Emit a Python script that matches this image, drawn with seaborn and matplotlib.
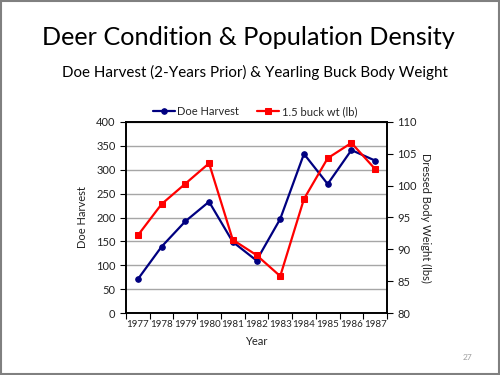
import matplotlib
matplotlib.use("Agg")
import matplotlib.pyplot as plt
import seaborn as sns
import pandas as pd
from matplotlib.patches import Rectangle
from matplotlib.ticker import FixedLocator, NullFormatter

# Datos
years = [1977, 1978, 1979, 1980, 1981, 1982, 1983, 1984, 1985, 1986, 1987]
doe_harvest = [71, 139, 192, 233, 149, 110, 197, 333, 270, 341, 319]
buck_wt = [92.2, 97.1, 100.3, 103.5, 91.5, 89.1, 85.8, 97.9, 104.3, 106.7, 102.6]

df = pd.DataFrame({"Year": years, "Doe": doe_harvest, "Buck": buck_wt})

sns.set_theme(style="white")
plt.rcParams['font.family'] = ['Lato', 'DejaVu Sans']

fig = plt.figure(figsize=(5, 3.75), dpi=100)
ax = fig.add_axes([0.252, 0.165, 0.522, 0.51])
ax2 = ax.twinx()

navy = "#000080"
red = "#FF0000"

sns.lineplot(data=df, x="Year", y="Doe", ax=ax, color=navy, marker="o",
             markersize=5, markeredgecolor=navy, linewidth=1.6, label="Doe Harvest",
             legend=False)
sns.lineplot(data=df, x="Year", y="Buck", ax=ax2, color=red, marker="s",
             markersize=5, markeredgecolor=red, linewidth=1.6, label="1.5 buck wt (lb)",
             legend=False)

ax.set_xlim(years[0] - 0.5, years[-1] + 0.5)
ax.set_ylim(0, 400)
ax.set_yticks(range(0, 401, 50))
ax2.set_ylim(80, 110)
ax2.set_yticks(range(80, 111, 5))

# marcas entre categorias, etiquetas en el centro
ax.xaxis.set_major_locator(FixedLocator([y - 0.5 for y in years] + [years[-1] + 0.5]))
ax.xaxis.set_major_formatter(NullFormatter())
ax.xaxis.set_minor_locator(FixedLocator(years))
ax.set_xticklabels([str(y) for y in years], minor=True)
ax.tick_params(axis="x", which="major", length=4, width=0.8, color="black", direction="out", bottom=True)
ax.tick_params(axis="x", which="minor", length=0, labelsize=7, pad=5, colors="#222222")
ax.tick_params(axis="y", length=4, width=0.8, direction="out", left=True, labelsize=8, colors="#222222")
ax2.tick_params(axis="y", length=4, width=0.8, direction="out", right=True, labelsize=8, colors="#222222")
ax.tick_params(axis="y", color="black")
ax2.tick_params(axis="y", color="black")

ax.yaxis.grid(True, color="#a6a6a6", linewidth=1.0)
ax.set_axisbelow(True)
for a in (ax, ax2):
    for s in a.spines.values():
        s.set_color("black")
        s.set_linewidth(1.2)

ax.set_xlabel("Year", fontsize=8, color="#222222")
ax.xaxis.set_label_coords(0.5, -0.12)
ax.set_ylabel("Doe Harvest", fontsize=8, color="#222222", labelpad=6)
ax2.set_ylabel("Dressed Body Weight (lbs)", fontsize=8, color="#222222", rotation=270, labelpad=10)

h1, l1 = ax.get_legend_handles_labels()
h2, l2 = ax2.get_legend_handles_labels()
for h in h1 + h2:
    h.set_markersize(4)
fig.legend(h1 + h2, l1 + l2, loc="center", bbox_to_anchor=(0.51, 0.703), ncol=2,
           frameon=False, fontsize=8, handlelength=2.0, columnspacing=1.6, handletextpad=0.2)

fig.text(0.496, 0.9, "Deer Condition & Population Density", ha="center", va="center",
         fontsize=18.2, color="black")
fig.text(0.51, 0.808, "Doe Harvest (2-Years Prior) & Yearling Buck Body Weight",
         ha="center", va="center", fontsize=10.9, color="black")
fig.text(0.935, 0.048, "27", ha="center", va="center", fontsize=6, color="#a0a0a0")

fig.patches.append(Rectangle((0.002, 0.003), 0.996, 0.994, transform=fig.transFigure,
                             fill=False, edgecolor="#808080", linewidth=1.5))

plt.savefig("out.png", dpi=100)
